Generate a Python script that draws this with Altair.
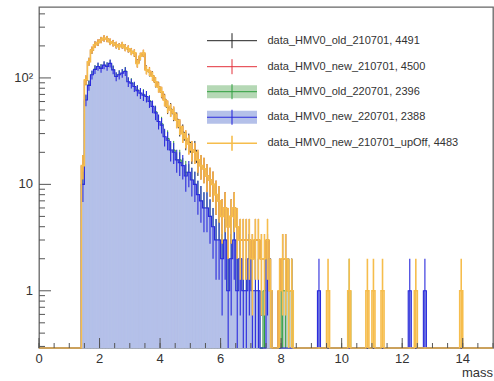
import altair as alt
import pandas as pd

# ---------------- data (counts per 0.1 bin, first bin starts at mass 1.4) ----------------
BIN_W = 0.1
N_BINS = 150
FIRST_BIN = 14  # 1.4

new_210701_upOff = [
    15, 96, 142, 183, 205, 215, 227, 236, 232, 219,   # 1.4-2.3
    212, 204, 197, 204, 192, 188, 177, 172, 137, 160,  # 2.4-3.3
    171, 119, 115, 104, 92, 82, 74, 62, 54, 50,        # 3.4-4.3
    47, 40, 35, 30, 27, 24, 21, 20, 17, 15,            # 4.4-5.3
    14, 12, 11, 10, 8, 7, 5, 6, 4, 5,                  # 5.4-6.3
    6, 4, 3, 3, 3, 3, 2, 3, 3, 2,                      # 6.4-7.3
    2, 3, 1, 0, 0, 1, 2, 2, 1, 1,                      # 7.4-8.3
    0, 0, 0, 0, 0, 0, 0, 0, 0, 0,                      # 8.4-9.3
    0, 1, 0, 0, 0, 0, 0, 0, 1, 0,                      # 9.4-10.3
    0, 0, 0, 0, 1, 0, 1, 0, 0, 1,                      # 10.4-11.3
    0, 0, 0, 0, 0, 0, 0, 0, 0, 0,                      # 11.4-12.3
    1, 0, 0, 0, 0, 0, 0, 0, 0, 0,                      # 12.4-13.3
    0, 0, 0, 0, 0, 1,                                  # 13.4-13.9
]
old_210701 = [
    15, 95, 143, 182, 206, 214, 228, 235, 233, 218,
    213, 203, 198, 203, 193, 187, 178, 171, 138, 159,
    170, 120, 114, 105, 91, 83, 73, 63, 53, 51,
    46, 41, 34, 31, 26, 25, 20, 21, 16, 15,
    14, 12, 11, 10, 8, 7, 5, 6, 4, 5,
    6, 4, 3, 3, 3, 3, 2, 3, 3, 2,
    2, 3, 1, 0, 0, 1, 2, 2, 1, 1,
]
new_210701 = [
    15, 96, 142, 184, 205, 216, 227, 236, 232, 220,
    212, 205, 197, 204, 192, 188, 177, 172, 137, 160,
    171, 119, 116, 104, 92, 82, 74, 62, 54, 50,
    47, 40, 35, 30, 27, 24, 21, 20, 17, 15,
    14, 12, 11, 10, 8, 7, 5, 6, 4, 5,
    6, 4, 3, 3, 3, 3, 2, 3, 3, 2,
    2, 3, 1, 0, 0, 1, 2, 2, 1, 1,
]
new_220701 = [
    10, 62, 85, 107, 120, 128, 123, 132, 128, 137,     # 1.4-2.3
    119, 103, 107, 111, 115, 92, 89, 83, 76, 72,       # 2.4-3.3
    69, 67, 60, 54, 47, 39, 36, 28, 26, 21,            # 3.4-4.3
    20, 17, 16, 15, 12, 13, 11, 10, 8, 7,              # 4.4-5.3
    6, 6, 5, 4, 3, 3, 2, 3, 1, 2,                      # 5.4-6.3
    3, 1, 2, 1, 1, 2, 1, 1, 1, 0,                      # 6.4-7.3
    0, 2, 1, 0, 0, 0, 0, 0, 0, 0,                      # 7.4-8.3
    0, 0, 0, 0, 0, 0, 0, 0, 1, 0,                      # 8.4-9.3
    0, 0, 0, 0, 0, 0, 0, 0, 0, 0,                      # 9.4-10.3
    0, 0, 0, 0, 0, 0, 0, 0, 0, 0,                      # 10.4-11.3
    0, 0, 0, 0, 0, 0, 0, 0, 1, 0,                      # 11.4-12.3
    0, 0, 0, 1, 0, 0, 0, 0, 0, 0,                      # 12.4-13.3
]
old_220701 = [
    10, 61, 86, 106, 121, 127, 124, 131, 129, 136,
    120, 102, 108, 110, 116, 91, 90, 82, 77, 71,
    70, 66, 61, 53, 48, 38, 37, 27, 27, 20,
    21, 16, 17, 14, 13, 12, 11, 10, 8, 7,
    6, 6, 5, 4, 3, 3, 2, 3, 1, 2,
    3, 1, 2, 1, 1, 2, 1, 1, 1, 0,
    1, 2, 1, 0, 0, 0, 1, 1, 1, 1,
    0, 0, 0, 0, 0, 0, 0, 0, 0, 0,
    0, 0, 0, 0, 0, 0, 0, 0, 1, 0,
]

series_names = ["data_HMV0_old_210701", "data_HMV0_new_210701", "data_HMV0_old_220701",
                "data_HMV0_new_220701", "data_HMV0_new_210701_upOff"]
series_values = [old_210701, new_210701, old_220701, new_220701, new_210701_upOff]
entries = [4491, 4500, 2396, 2388, 4483]
line_colors = ["#222222", "#e3303b", "#2e9e3e", "#2b2bdc", "#f6bd4c"]
fill_colors = [None, None, "#c3d2cc", "#b4c0e9", None]
legend_fill = [None, None, "#b5d8b5", "#b4c0e9", None]
line_widths = [1.0, 1.0, 1.0, 1.1, 1.6]

x_major = [0, 2, 4, 6, 8, 10, 12, 14]
x_labels = ["0", "2", "4", "6", "8", "10", "12", "14"]
x_minor = [i * 0.5 for i in range(31)]
y_major = [1, 10, 100]
y_labels = ["1", "10", "10²"]
y_minor = [0.3, 0.4, 0.5, 0.6, 0.7, 0.8, 0.9, 2, 3, 4, 5, 6, 7, 8, 9,
           20, 30, 40, 50, 60, 70, 80, 90, 200, 300, 400]
x_title = "mass"

# ---------------- layout ----------------
W, H = 454, 341
YMIN, YMAX = 0.29, 464
FONT = "Liberation Sans"
TXT = "#333333"

xs = alt.Scale(domain=[0, 15], nice=False, zero=False)
ys = alt.Scale(type="log", domain=[YMIN, YMAX], nice=False, clamp=True)


def bins_frame(vals):
    rows = []
    for i in range(N_BINS):
        k = i - FIRST_BIN
        n = vals[k] if 0 <= k < len(vals) else 0
        lo = round(i * BIN_W, 2)
        rows.append({"lo": lo, "hi": round(lo + BIN_W, 2), "mid": round(lo + BIN_W / 2, 3), "n": n})
    return pd.DataFrame(rows)


layers = []
for idx, (name, vals) in enumerate(zip(series_names, series_values)):
    df = bins_frame(vals)
    col = line_colors[idx]
    nonzero = df[df["n"] > 0]
    step = pd.concat([df[["lo", "n"]], pd.DataFrame({"lo": [15.0], "n": [0]})], ignore_index=True)
    if fill_colors[idx]:
        layers.append(
            alt.Chart(nonzero).mark_rect(fill=fill_colors[idx], stroke=fill_colors[idx], strokeWidth=0.7).encode(
                x=alt.X("lo:Q", scale=xs, axis=None),
                x2="hi:Q",
                y=alt.Y("n:Q", scale=ys, axis=None),
                y2=alt.value(H),
            )
        )
    layers.append(
        alt.Chart(step).transform_calculate(yv=f"max(datum.n, {YMIN})").mark_line(
            interpolate="step-after", color=col, strokeWidth=line_widths[idx]
        ).encode(
            x=alt.X("lo:Q", scale=xs, axis=None),
            y=alt.Y("yv:Q", scale=ys, axis=None),
            order="lo:Q",
        )
    )
    layers.append(
        alt.Chart(nonzero).transform_calculate(
            elo=f"max(datum.n - sqrt(datum.n), {YMIN})", ehi="datum.n + sqrt(datum.n)"
        ).mark_rule(color=col, strokeWidth=line_widths[idx]).encode(
            x=alt.X("mid:Q", scale=xs, axis=None),
            y=alt.Y("elo:Q", scale=ys, axis=None),
            y2="ehi:Q",
        )
    )

TICK = "#555555"
tick_layers = [
    alt.Chart(pd.DataFrame({"v": y_major})).mark_rule(color=TICK).encode(
        y=alt.Y("v:Q", scale=ys, axis=None), x=alt.value(0), x2=alt.value(12)),
    alt.Chart(pd.DataFrame({"v": y_minor})).mark_rule(color=TICK).encode(
        y=alt.Y("v:Q", scale=ys, axis=None), x=alt.value(0), x2=alt.value(6)),
    alt.Chart(pd.DataFrame({"v": x_major})).mark_rule(color=TICK).encode(
        x=alt.X("v:Q", scale=xs, axis=None), y=alt.value(H), y2=alt.value(H - 10)),
    alt.Chart(pd.DataFrame({"v": x_minor})).mark_rule(color=TICK).encode(
        x=alt.X("v:Q", scale=xs, axis=None), y=alt.value(H), y2=alt.value(H - 5)),
]

# axis labels as text marks placed through the scales
label_layers = [
    alt.Chart(pd.DataFrame({"v": x_major, "lab": x_labels})).mark_text(
        align="center", baseline="alphabetic", fontSize=13, font=FONT, color=TXT).encode(
        x=alt.X("v:Q", scale=xs, axis=None), y=alt.value(H + 15), text="lab:N"),
    alt.Chart(pd.DataFrame({"v": y_major, "lab": y_labels})).mark_text(
        align="right", baseline="middle", fontSize=13, font=FONT, color=TXT).encode(
        y=alt.Y("v:Q", scale=ys, axis=None), x=alt.value(-6), text="lab:N"),
    alt.Chart(pd.DataFrame({"lab": [x_title]})).mark_text(
        align="right", baseline="alphabetic", fontSize=13, font=FONT, color=TXT).encode(
        x=alt.value(W), y=alt.value(H + 29), text="lab:N"),
]

# legend (drawn inside the frame, ROOT TLegend style)
legend_layers = []
one = pd.DataFrame({"k": [0]})
row_y = [33.7, 59.7, 84.7, 110.3, 136.3]
for idx, name in enumerate(series_names):
    ry = row_y[idx]
    col = line_colors[idx]
    if legend_fill[idx]:
        legend_layers.append(alt.Chart(one).mark_rect(fill=legend_fill[idx]).encode(
            x=alt.value(168), x2=alt.value(218), y=alt.value(ry - 6.5), y2=alt.value(ry + 6.5)))
    legend_layers.append(alt.Chart(one).mark_rule(color=col, strokeWidth=line_widths[idx]).encode(
        x=alt.value(168), x2=alt.value(218), y=alt.value(ry)))
    legend_layers.append(alt.Chart(one).mark_rule(color=col, strokeWidth=line_widths[idx]).encode(
        x=alt.value(193), y=alt.value(ry - 7.5), y2=alt.value(ry + 7.5)))
    legend_layers.append(alt.Chart(one).mark_text(
        align="left", baseline="middle", fontSize=11, font=FONT, color=TXT,
        text=f"{name}, {entries[idx]}").encode(x=alt.value(228.5), y=alt.value(ry)))

chart = alt.layer(*layers, *tick_layers, *label_layers, *legend_layers).properties(
    width=W, height=H,
    padding={"left": 39, "top": 7, "right": 1, "bottom": 33},
    autosize=alt.AutoSizeParams(type="none"),
    background="white",
).configure_view(stroke="#666666", strokeWidth=1.3)

chart.save("out.html", embed_options={"renderer": "svg", "actions": False})
